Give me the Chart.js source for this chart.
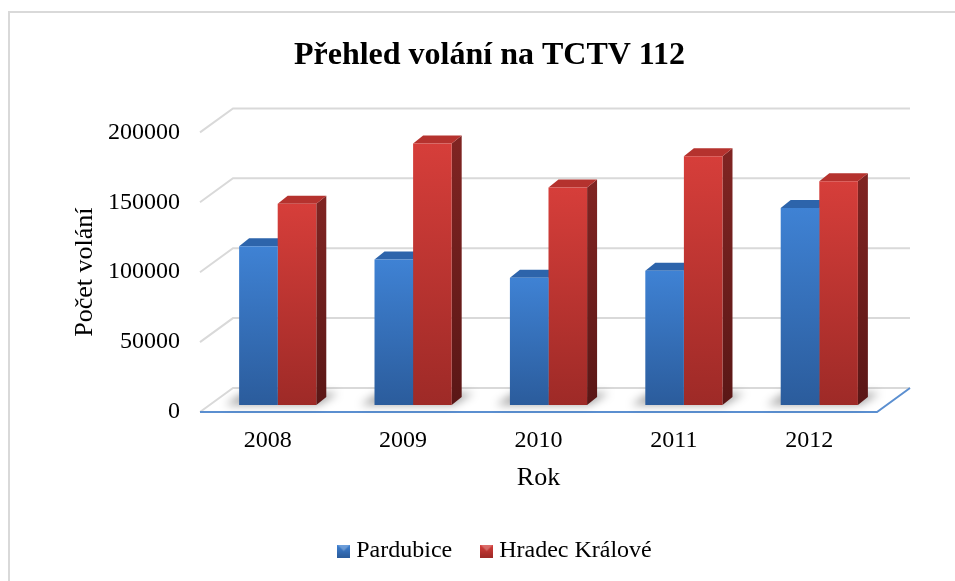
<!DOCTYPE html>
<html lang="cs">
<head>
  <meta charset="UTF-8">
  <title>Přehled volání na TCTV 112</title>
  <script src="https://cdn.jsdelivr.net/npm/chart.js"></script>
  <style>
    body {
      margin: 0;
      padding: 0;
      background: #ffffff;
      overflow: hidden;
    }

    .frame {
      position: absolute;
      left: 8px;
      top: 11px;
      width: 1000px;
      height: 700px;
      border: 2px solid #d9d9d9;
    }

    .wrap {
      position: absolute;
      left: 0;
      top: 0;
      width: 955px;
      height: 581px;
    }
  </style>
</head>
<body>

  <div class="frame"></div>
  <div class="wrap">
    <canvas id="callChart" width="955" height="581"></canvas>
  </div>

  <script>
    // data
    const years = ['2008', '2009', '2010', '2011', '2012'];
    const pardubice = [113500, 104000, 91000, 96000, 141000];
    const hradecKralove = [144000, 187000, 155500, 178000, 160000];
    const yTicks = [0, 50000, 100000, 150000, 200000];

    // 3D look: depth of floor/back wall, and where the bars sit in it
    const WALL_DX = 33, WALL_DY = 24;
    const BAR_OFF_X = 10, BAR_OFF_Y = 7;
    const BAR_DX = 10, BAR_DY = 8;

    const serif = "'Liberation Serif', 'Times New Roman', serif";

    function frontGradient(topColor, bottomColor) {
      return function (c) {
        const chart = c.chart;
        if (!chart.chartArea || !c.parsed) return topColor;
        const ys = chart.scales.y;
        const y0 = ys.getPixelForValue(c.parsed.y);
        const y1 = ys.getPixelForValue(0);
        const g = chart.ctx.createLinearGradient(0, y0, 0, y1);
        g.addColorStop(0, topColor);
        g.addColorStop(1, bottomColor);
        return g;
      };
    }

    const looks = [
      { front: ['#3f82d4', '#2b5c9c'], top: '#2d64ab', side: ['#244f88', '#1b3d6b'] },
      { front: ['#d63e3a', '#9e2a27'], top: '#b5322e', side: ['#7f2422', '#5a1716'] }
    ];

    // little bevelled squares for the legend
    function legendSwatch(look) {
      const c = document.createElement('canvas');
      c.width = 13;
      c.height = 13;
      const x = c.getContext('2d');
      const g = x.createLinearGradient(0, 0, 0, 13);
      g.addColorStop(0, look.front[0]);
      g.addColorStop(1, look.front[1]);
      x.fillStyle = g;
      x.fillRect(0, 0, 13, 13);
      x.fillStyle = 'rgba(255,255,255,0.25)';
      x.beginPath();
      x.moveTo(0, 0); x.lineTo(13, 0); x.lineTo(6.5, 6.5);
      x.closePath();
      x.fill();
      return c;
    }

    const wall3d = {
      id: 'wall3d',
      afterLayout(chart) {
        // push legend and title a little right, like the original
        chart.legend.left += 29;
        chart.legend.right += 29;
        chart.titleBlock.left += 21;
        chart.titleBlock.right += 21;
      },
      beforeDatasetsDraw(chart) {
        const ctx = chart.ctx;
        const ca = chart.chartArea;
        const ys = chart.scales.y;

        ctx.save();
        // back wall grid + left wall diagonals
        ctx.strokeStyle = '#d9d9d9';
        ctx.lineWidth = 2;
        yTicks.forEach(v => {
          const yf = ys.getPixelForValue(v);
          ctx.beginPath();
          ctx.moveTo(ca.left, yf);
          ctx.lineTo(ca.left + WALL_DX, yf - WALL_DY);
          ctx.lineTo(ca.right + WALL_DX, yf - WALL_DY);
          ctx.stroke();
        });

        // floor front + right edge
        ctx.strokeStyle = '#5b8fd0';
        ctx.beginPath();
        ctx.moveTo(ca.left, ca.bottom);
        ctx.lineTo(ca.right, ca.bottom);
        ctx.lineTo(ca.right + WALL_DX, ca.bottom - WALL_DY);
        ctx.stroke();

        // soft shadows on the floor
        ctx.filter = 'blur(4px)';
        ctx.fillStyle = 'rgba(0,0,0,0.35)';
        const m0 = chart.getDatasetMeta(0).data;
        const m1 = chart.getDatasetMeta(1).data;
        m0.forEach((el, i) => {
          const l = el.x - el.width / 2 + BAR_OFF_X;
          const r = m1[i].x + m1[i].width / 2 + BAR_OFF_X;
          const b = ys.getPixelForValue(0) - BAR_OFF_Y;
          ctx.beginPath();
          ctx.moveTo(l - 14, b);
          ctx.lineTo(r + 2, b);
          ctx.lineTo(r + 22, b - 12);
          ctx.lineTo(l + 4, b - 12);
          ctx.closePath();
          ctx.fill();
        });
        ctx.filter = 'none';
        ctx.restore();

        // bars sit a bit into the depth
        ctx.save();
        ctx.translate(BAR_OFF_X, -BAR_OFF_Y);

        // sides and tops; fronts are drawn by Chart.js on top
        chart.data.datasets.forEach((ds, di) => {
          const look = looks[di];
          chart.getDatasetMeta(di).data.forEach(el => {
            const l = el.x - el.width / 2;
            const r = el.x + el.width / 2;
            const t = el.y;
            const b = el.base;

            const sg = ctx.createLinearGradient(0, t, 0, b);
            sg.addColorStop(0, look.side[0]);
            sg.addColorStop(1, look.side[1]);
            ctx.fillStyle = sg;
            ctx.beginPath();
            ctx.moveTo(r, t);
            ctx.lineTo(r + BAR_DX, t - BAR_DY);
            ctx.lineTo(r + BAR_DX, b - BAR_DY);
            ctx.lineTo(r, b);
            ctx.closePath();
            ctx.fill();

            ctx.fillStyle = look.top;
            ctx.beginPath();
            ctx.moveTo(l, t);
            ctx.lineTo(l + BAR_DX, t - BAR_DY);
            ctx.lineTo(r + BAR_DX, t - BAR_DY);
            ctx.lineTo(r, t);
            ctx.closePath();
            ctx.fill();
          });
        });
      },
      afterDatasetsDraw(chart) {
        chart.ctx.restore();
      }
    };

    const ctx = document.getElementById('callChart').getContext('2d');

    new Chart(ctx, {
      type: 'bar',
      data: {
        labels: years,
        datasets: [{
          label: 'Pardubice',
          data: pardubice,
          backgroundColor: frontGradient(looks[0].front[0], looks[0].front[1]),
          borderWidth: 0,
          categoryPercentage: 0.57,
          barPercentage: 1.0,
          clip: false
        }, {
          label: 'Hradec Králové',
          data: hradecKralove,
          backgroundColor: frontGradient(looks[1].front[0], looks[1].front[1]),
          borderWidth: 0,
          categoryPercentage: 0.57,
          barPercentage: 1.0,
          clip: false
        }]
      },
      plugins: [wall3d],
      options: {
        responsive: false,
        animation: false,
        layout: {
          padding: { left: 60, right: 78, top: 0, bottom: 8 }
        },
        plugins: {
          title: {
            display: true,
            text: 'Přehled volání na TCTV 112',
            color: '#000000',
            font: { family: serif, size: 32, weight: 'bold' },
            padding: { top: 37, bottom: 57 }
          },
          legend: {
            position: 'bottom',
            labels: {
              color: '#000000',
              font: { family: serif, size: 24 },
              usePointStyle: true,
              pointStyleWidth: 1,
              boxHeight: 12,
              padding: 34,
              generateLabels(chart) {
                return chart.data.datasets.map((ds, i) => ({
                  text: ds.label,
                  pointStyle: legendSwatch(looks[i]),
                  fillStyle: looks[i].front[0],
                  strokeStyle: looks[i].front[0],
                  lineWidth: 0,
                  datasetIndex: i,
                  hidden: false
                }));
              }
            }
          },
          tooltip: { enabled: false }
        },
        scales: {
          x: {
            grid: { display: false, drawTicks: false },
            border: { display: false },
            ticks: {
              color: '#000000',
              font: { family: serif, size: 24 },
              padding: 14,
              maxRotation: 0
            },
            title: {
              display: true,
              text: 'Rok',
              color: '#000000',
              font: { family: serif, size: 26 },
              padding: { top: 0, bottom: 11 }
            },
            afterFit(scale) {
              scale.height = 93;
            }
          },
          y: {
            min: 0,
            max: 200000,
            grid: { display: false, drawTicks: false },
            border: { display: false },
            afterBuildTicks(scale) {
              scale.ticks = yTicks.map(v => ({ value: v }));
            },
            ticks: {
              color: '#000000',
              font: { family: serif, size: 24 },
              padding: 20,
              callback: v => String(v)
            },
            title: {
              display: true,
              text: 'Počet volání',
              color: '#000000',
              font: { family: serif, size: 26 },
              padding: { top: 10, bottom: 0 }
            },
            afterFit(scale) {
              scale.width = 140;
            }
          }
        }
      }
    });
  </script>

</body>
</html>
